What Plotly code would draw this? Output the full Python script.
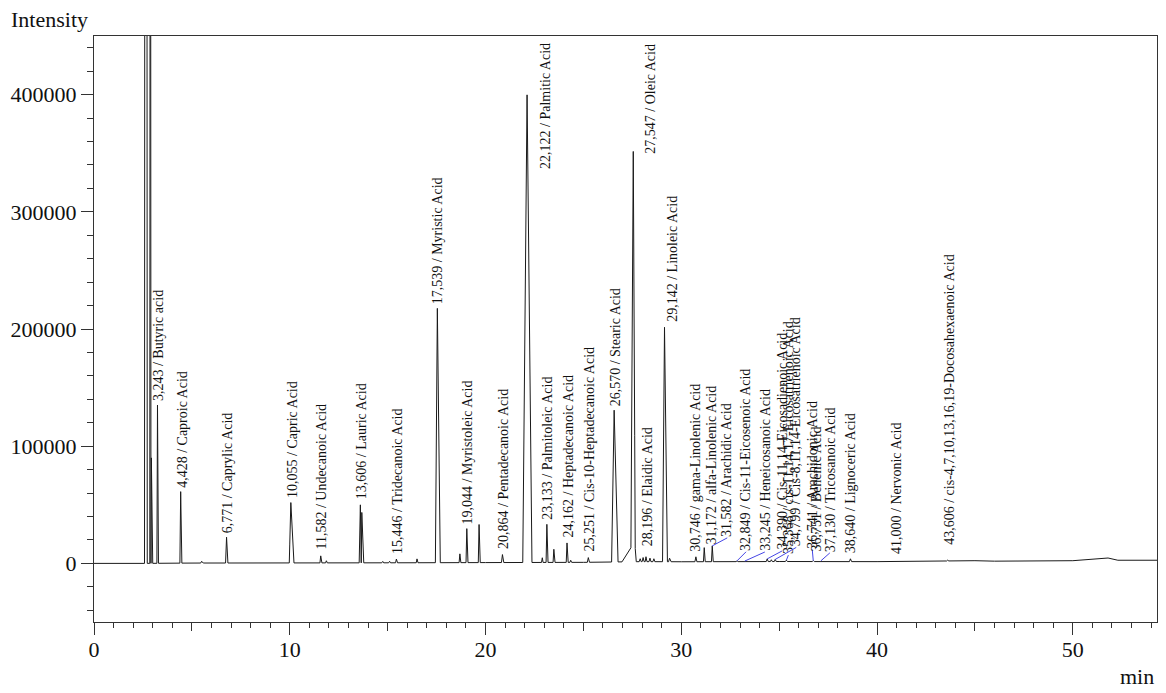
import numpy as np
import plotly.graph_objects as go

# ---------------- data ----------------
# peak table: retention time (min), height (intensity), left / right half-base width (min)
peak_rt = [2.65, 2.88, 2.93, 3.243, 4.428, 5.50, 6.771, 10.055, 11.582, 11.87,
           13.606, 13.68, 14.75, 15.10, 15.446, 16.50, 17.539, 18.69, 19.044, 19.67,
           20.864, 22.122, 22.90, 23.133, 23.49, 24.162, 24.35, 25.251, 26.570,
           27.547, 27.62, 27.90, 28.05, 28.196, 28.40, 28.60, 29.142, 29.40,
           30.746, 31.172, 31.582, 32.849, 33.245, 34.390, 34.60, 34.799, 35.368,
           36.745, 37.130, 38.640, 41.000, 43.606]
peak_h = [3000000, 1200000, 90000, 135000, 61000, 1500, 22000, 51500, 6000, 1800,
          49500, 43000, 1200, 1300, 3200, 3300, 217000, 7500, 29000, 32500,
          6800, 399000, 4000, 32500, 11200, 16600, 1800, 4000, 129500,
          335000, 17000, 2500, 3500, 4200, 3000, 2500, 200000, 3000,
          4200, 12000, 13500, 700, 500, 2300, 1500, 1800, 1200,
          900, 600, 2400, 500, 700]
peak_wl = [0.07, 0.03, 0.02, 0.03, 0.04, 0.05, 0.05, 0.08, 0.04, 0.04,
           0.06, 0.03, 0.05, 0.05, 0.04, 0.04, 0.10, 0.04, 0.04, 0.04,
           0.05, 0.22, 0.04, 0.04, 0.04, 0.04, 0.04, 0.05, 0.13,
           0.12, 0.65, 0.05, 0.05, 0.04, 0.05, 0.05, 0.10, 0.05,
           0.05, 0.04, 0.04, 0.05, 0.05, 0.05, 0.05, 0.05, 0.05,
           0.05, 0.05, 0.05, 0.05, 0.05]
peak_wr = [0.07, 0.03, 0.07, 0.05, 0.06, 0.08, 0.07, 0.16, 0.06, 0.05,
           0.04, 0.10, 0.05, 0.05, 0.06, 0.05, 0.15, 0.05, 0.06, 0.06,
           0.07, 0.25, 0.04, 0.06, 0.06, 0.06, 0.05, 0.06, 0.20,
           0.10, 0.08, 0.05, 0.05, 0.05, 0.05, 0.05, 0.15, 0.08,
           0.05, 0.05, 0.05, 0.05, 0.05, 0.05, 0.05, 0.05, 0.05,
           0.05, 0.05, 0.06, 0.05, 0.06]

# slow baseline drift
base_t = [0, 2.5, 5, 10, 15, 20, 25, 28, 30, 35, 40, 45, 46, 50, 51.3, 51.8, 52.3, 54.3]
base_v = [0, 0, 300, 400, 500, 700, 900, 1500, 1400, 1600, 1500, 2300, 1900, 2300, 4300, 4600, 2700, 2700]

# identified compounds: retention time and name
label_rt = [3.243, 4.428, 6.771, 10.055, 11.582, 13.606, 15.446, 17.539, 19.044,
            20.864, 22.122, 23.133, 24.162, 25.251, 26.570, 27.547, 28.196, 29.142,
            30.746, 31.172, 31.582, 32.849, 33.245, 34.390, 35.368, 34.799,
            36.741, 36.751, 37.130, 38.640, 41.000, 43.606]
label_name = ["Butyric acid", "Caproic Acid", "Caprylic Acid", "Capric Acid",
              "Undecanoic Acid", "Lauric Acid", "Tridecanoic Acid", "Myristic Acid",
              "Myristoleic Acid", "Pentadecanoic Acid", "Palmitic Acid",
              "Palmitoleic Acid", "Heptadecanoic Acid", "Cis-10-Heptadecanoic Acid",
              "Stearic Acid", "Oleic Acid", "Elaidic Acid", "Linoleic Acid",
              "gama-Linolenic Acid", "alfa-Linolenic Acid", "Arachidic Acid",
              "Cis-11-Eicosenoic Acid", "Heneicosanoic Acid",
              "Cis-11,14-Eicosadienoic Acid", "cis-11,14,17-Eicosatrienoic Acid",
              "Cis-8,11,14-Eicosatrienoic Acid", "Arachidonic Acid", "Behenic Acid",
              "Tricosanoic Acid", "Lignoceric Acid", "Nervonic Acid",
              "cis-4,7,10,13,16,19-Docosahexaenoic Acid"]

x_tick_vals = [0, 5, 10, 15, 20, 25, 30, 35, 40, 45, 50]
x_tick_text = ["0", "", "10", "", "20", "", "30", "", "40", "", "50"]
y_tick_vals = [0, 100000, 200000, 300000, 400000]
y_tick_text = ["0", "100000", "200000", "300000", "400000"]

# ---------------- label placement (pixel offsets from the peak apex) ----------------
label_dx = [1, 1, 1, 1, 1, 1, 1, 1, 1,
            1, 19, 1, 1, 1, 1, 17, 1, 8,
            0, 7, 15, 9, 20, 15, 2, 21,
            -1, 3, 9, 0, 0, 1]
label_dy = [-3, -3, -3, -4, -5, -5, -4, -3, -3,
            -5, 75, -4, -4, -5, -3, 3, -10, -4,
            -4, -2, -8, -9, -9, -8, -5, -12,
            -11, -8, -8, -5, -6, -14]
label_lead = [False] * 20 + [True, True, True, True, True, True, True, False, True, False, False, False]

# ---------------- build the trace from the peak table ----------------
verts = set(base_t)
for t, wl, wr in zip(peak_rt, peak_wl, peak_wr):
    verts.update([round(t - wl, 4), t, round(t + wr, 4)])
xs = np.array(sorted(v for v in verts if 0 <= v <= 54.3))
ys = np.interp(xs, base_t, base_v)
for t, h, wl, wr in zip(peak_rt, peak_h, peak_wl, peak_wr):
    ys = ys + np.interp(xs, [t - wl, t, t + wr], [0, h, 0], left=0, right=0)

fig = go.Figure()
fig.add_trace(go.Scatter(x=xs, y=ys, mode="lines",
                         line=dict(color="#1a1a1a", width=1),
                         hoverinfo="skip", showlegend=False))
# helper trace for the 10-min long ticks overlay axis
fig.add_trace(go.Scatter(x=[], y=[], xaxis="x2", yaxis="y", showlegend=False))

FONT = "Liberation Serif"
AX = "#333333"
annotations = []
for rt, name, dx, dy, lead in zip(label_rt, label_name, label_dx, label_dy, label_lead):
    yv = float(np.interp(rt, xs, ys))
    txt = f"{rt:.3f}".replace(".", ",") + " / " + name
    # anchors refer to the unrotated text box: left/middle puts the rotated
    # text's bottom-centre on the arrow tail
    annotations.append(dict(
        x=rt, y=yv, xref="x", yref="y", text=txt, textangle=-90,
        font=dict(family=FONT, size=14, color="#111111"),
        showarrow=True, arrowhead=0, arrowwidth=1,
        arrowcolor="#4646e6" if lead else "rgba(0,0,0,0)",
        ax=dx, ay=dy, axref="pixel", ayref="pixel",
        xanchor="left", yanchor="middle", standoff=0, startstandoff=0,
        borderpad=0))

annotations.append(dict(text="Intensity", xref="paper", yref="paper", x=-0.08, y=1,
                        xanchor="left", yanchor="bottom", yshift=2, showarrow=False,
                        font=dict(family=FONT, size=22, color="#111111")))
annotations.append(dict(text="min", xref="paper", yref="paper", x=0.999, y=0,
                        xanchor="right", yanchor="top", yshift=-40, showarrow=False,
                        font=dict(family=FONT, size=22, color="#111111")))

fig.update_layout(
    width=1166, height=693,
    margin=dict(l=94, r=9, t=36, b=71),
    paper_bgcolor="white", plot_bgcolor="white",
    font=dict(family=FONT, size=22, color="#111111"),
    showlegend=False,
    xaxis=dict(range=[0, 54.3], tickmode="array", tickvals=x_tick_vals, ticktext=x_tick_text,
               ticks="outside", ticklen=8, tickwidth=1, tickcolor=AX,
               showline=True, linecolor=AX, linewidth=1, mirror=True,
               showgrid=False, zeroline=False,
               minor=dict(dtick=1, tick0=0, ticks="outside", ticklen=5, tickcolor=AX, showgrid=False)),
    xaxis2=dict(range=[0, 54.3], overlaying="x", side="bottom", tickmode="array",
                tickvals=[v for v, s in zip(x_tick_vals, x_tick_text) if s],
                ticks="outside", ticklen=12, tickwidth=1, tickcolor=AX,
                showticklabels=False, showline=False, showgrid=False, zeroline=False),
    yaxis=dict(range=[-50000, 450000], tickmode="array", tickvals=y_tick_vals, ticktext=y_tick_text,
               ticks="outside", ticklen=12, tickwidth=1, tickcolor=AX,
               showline=True, linecolor=AX, linewidth=1, mirror=True,
               showgrid=False, zeroline=False,
               minor=dict(dtick=20000, tick0=0, ticks="outside", ticklen=6, tickcolor=AX, showgrid=False)),
    annotations=annotations,
)

fig.write_html("out.html", config={"displayModeBar": False},
               post_script="document.body.style.margin='0';document.body.style.padding='0';")
